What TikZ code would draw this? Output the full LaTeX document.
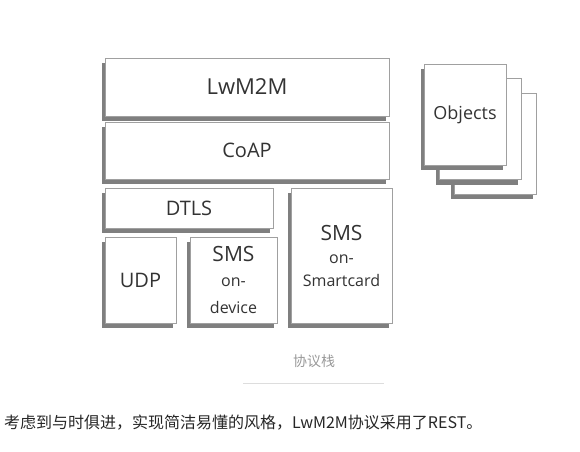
\documentclass[tikz,border=0pt]{standalone}
\usepackage{fontspec}
\setmainfont{Open Sans}
\newfontfamily\cjk{Noto Sans CJK SC}
\usetikzlibrary{shadows}
\definecolor{shadowgray}{HTML}{7F7F7F}
\definecolor{edgegray}{HTML}{A0A0A0}
\definecolor{textgray}{HTML}{333333}
\definecolor{captiongray}{HTML}{999999}
\definecolor{rulegray}{HTML}{DDDDDD}
\begin{document}
\begin{tikzpicture}[x=1pt,y=-1pt,
  layer/.style={draw=edgegray, line width=0.6pt, fill=white, text=textgray,
    align=center, inner sep=0pt,
    general shadow={fill=shadowgray, shadow xshift=-3pt, shadow yshift=-5pt}},
  big/.style={font=\fontsize{20}{24}\selectfont},
  small/.style={font=\fontsize{16}{25}\selectfont}]
\useasboundingbox (0,0) rectangle (580,451);
% protocol stack
\node[layer, big, font=\fontsize{22}{24}\selectfont, minimum width=284pt, minimum height=58pt] (lwm2m) at (247,87) {LwM2M};
\node[layer, big, minimum width=284pt, minimum height=57pt] (coap) at (247,150.5) {CoAP};
\node[layer, big, minimum width=168pt, minimum height=40pt] (dtls) at (189,208) {DTLS};
\node[layer, big, minimum width=71pt, minimum height=86pt] (udp) at (140.5,280) {UDP};
\node[layer, small, minimum width=87pt, minimum height=86pt] (smsdev) at (233.5,280)
  {{\fontsize{21}{25}\selectfont SMS}\\on-\\[2pt]device};
\node[layer, small, minimum width=101pt, minimum height=135pt] (smscard) at (341.5,255.5)
  {{\fontsize{21}{25}\selectfont SMS}\\[-2pt]on-\\[-2pt]Smartcard};
% objects
\node[layer, minimum width=82pt, minimum height=101pt] (obj3) at (495,143.5) {};
\node[layer, minimum width=82pt, minimum height=101pt] (obj2) at (480,129) {};
\node[layer, font=\fontsize{18}{20}\selectfont, minimum width=82pt, minimum height=101pt] (obj1) at (465,114.5) {Objects};
% caption
\node[text=captiongray, font=\cjk\fontsize{14}{16}\selectfont] (caption) at (314,361) {协议栈};
\coordinate (ruleL) at (243,383);
\coordinate (ruleR) at (384,383);
\draw[rulegray, line width=1pt] (ruleL) -- (ruleR);
\node[anchor=west, inner sep=0pt, text=black!85, font=\cjk\fontsize{16}{18}\selectfont] (remark) at (4,423)
  {考虑到与时俱进，实现简洁易懂的风格，LwM2M协议采用了REST。};
\end{tikzpicture}
\end{document}
